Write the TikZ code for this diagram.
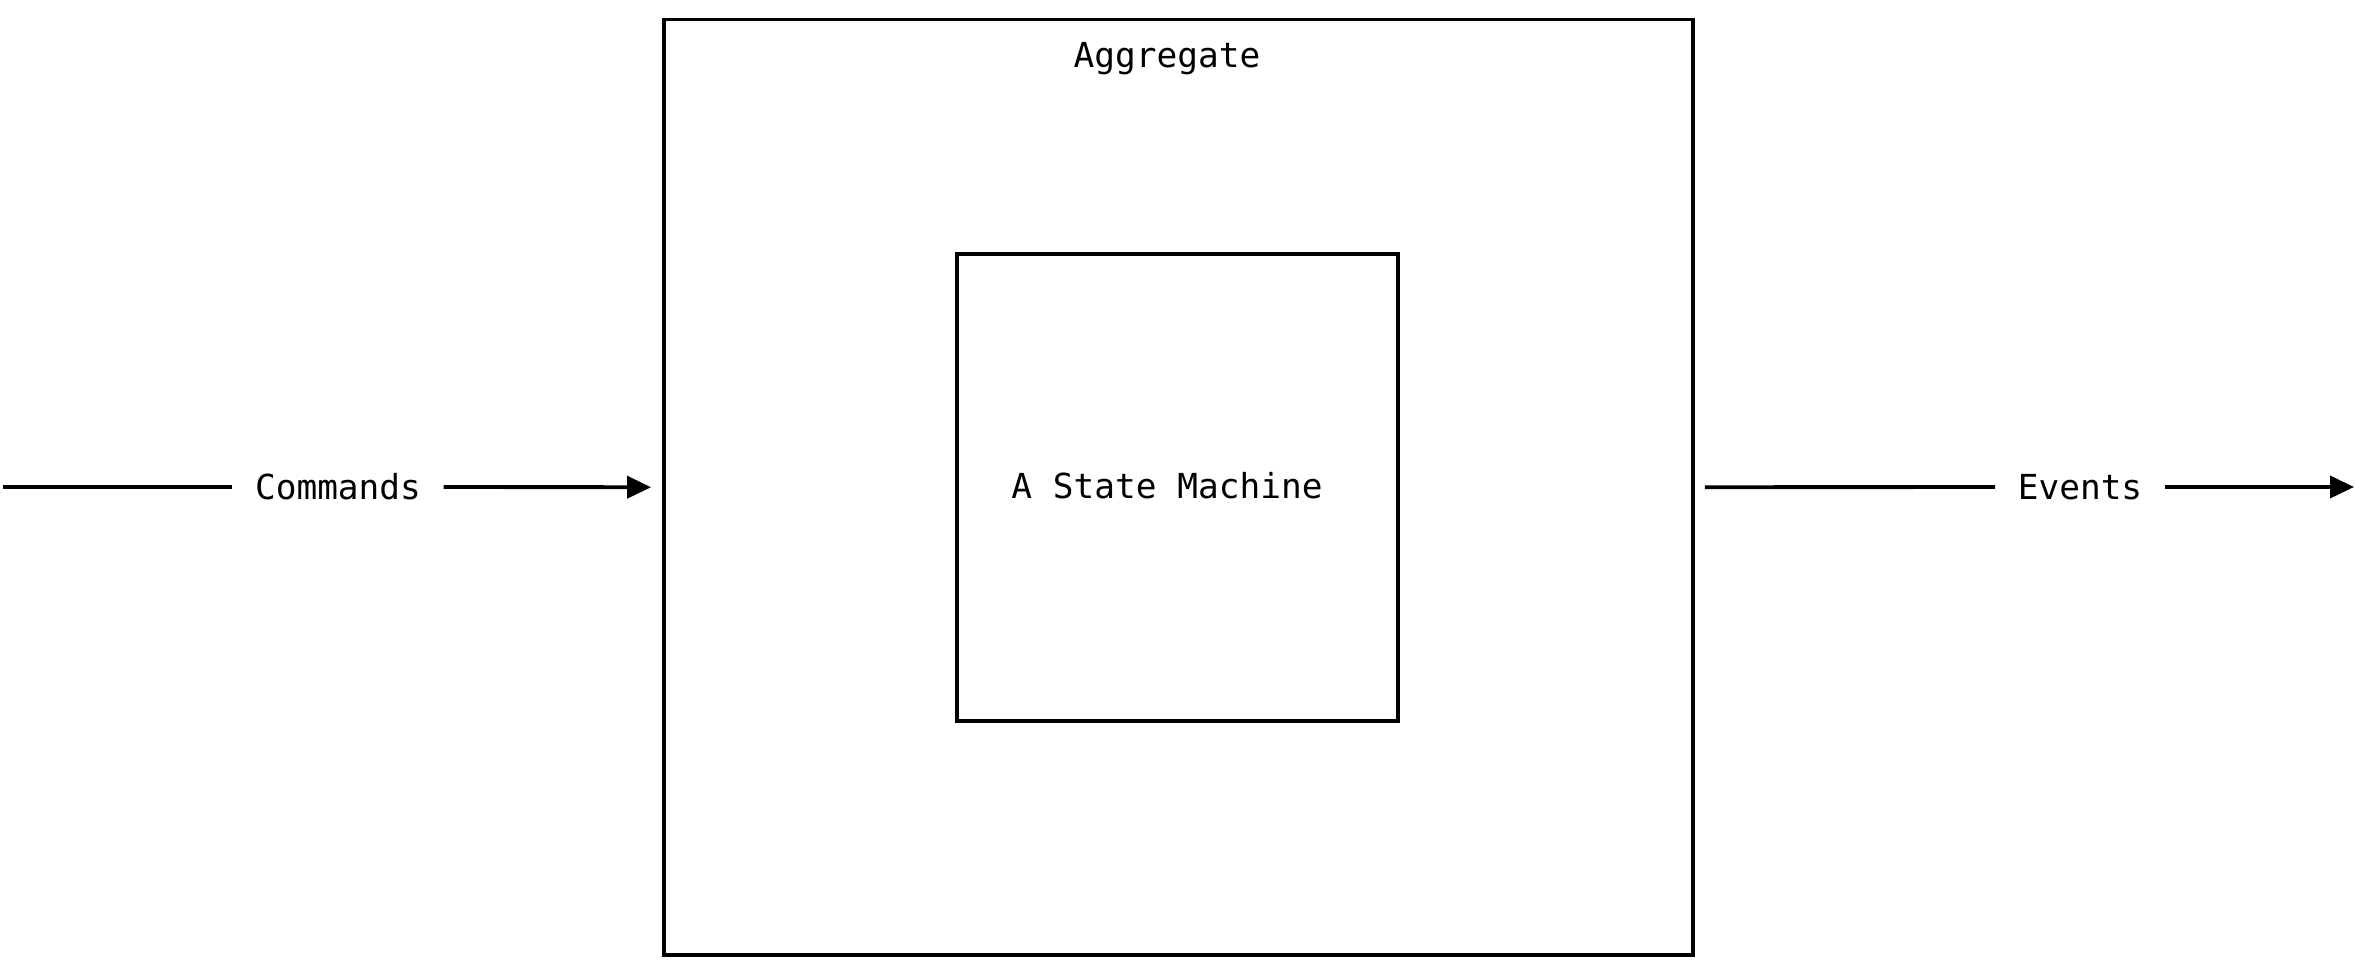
\documentclass[tikz,border=0pt]{standalone}
\usepackage{fontspec}
\setmonofont{DejaVu Sans Mono}
\usepackage{tikz}
\usetikzlibrary{arrows.meta}
\tikzset{
  box/.style={rectangle, draw, line width=1.1pt},
  flow/.style={line width=1.1pt, -{Triangle[length=0.24cm, width=0.22cm]}},
  lbl/.style={font=\ttfamily\fontsize{9.8}{12}\selectfont, inner xsep=0.22cm}
}
\begin{document}
\begin{tikzpicture}
\useasboundingbox (0,0) rectangle (23.55,9.78);
% 外側の箱と内側の箱
\node[box, minimum width=10.29cm, minimum height=9.355cm] (agg) at (11.785,4.9075) {};
\node[box, minimum width=4.41cm, minimum height=4.67cm] (fsm) at (11.775,4.905) {};
\node[lbl] (aggname) at (11.67,9.19) {Aggregate};
\node[lbl] (fsmname) at (11.67,4.92) {A State Machine};

% 入力と出力
\coordinate (cmdin) at (0.03,4.91);
\coordinate (evtout) at (23.54,4.91);
\node[lbl] (cmd) at (3.38,4.91) {Commands};
\node[lbl] (evt) at (20.80,4.91) {Events};

\draw[line width=1.1pt] (cmdin) -- (cmd.west);
\draw[flow, shorten >=0.11cm] (cmd.east) -- (agg.west);
\draw[line width=1.1pt, shorten <=0.1cm] (agg.east) -- (evt.west);
\draw[flow] (evt.east) -- (evtout);
\end{tikzpicture}
\end{document}
